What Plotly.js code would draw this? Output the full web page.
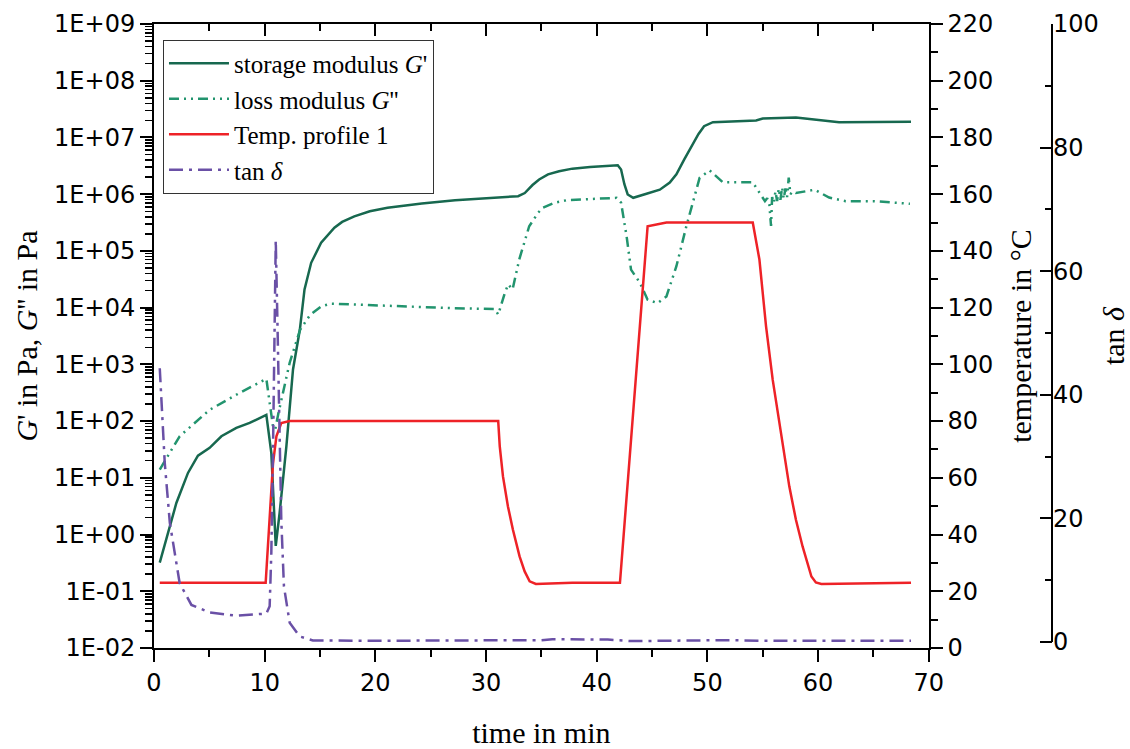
<!DOCTYPE html>
<html>
<head>
<meta charset="utf-8">
<script src="https://cdn.plot.ly/plotly-3.0.1.min.js"></script>
<style>html,body{margin:0;padding:0;background:#fff;}#chart{width:1130px;height:749px;}</style>
</head>
<body>
<div id="chart"></div>
<script>
// ---- data ----
// storage modulus G' (Pa) vs time (min)
const tStorage = [0.52,1.43,2.02,3.07,3.97,5.03,6.09,7.44,8.64,10.15,10.6,11.0,11.35,11.96,12.56,13.18,13.46,13.6,14.2,15.1,16.3,17.0,18.1,19.5,21.1,22.5,24.2,27.2,30.0,31.7,32.9,33.5,34.2,34.8,35.6,36.6,37.8,39.4,41.9,42.2,42.5,42.8,43.3,44.5,45.7,46.6,47.2,47.9,48.7,49.2,49.7,50.5,54.4,55.0,58.0,61.0,61.9,68.4];
const storageModulus = [0.32,1.4,3.6,12.2,24.5,33.7,54,76,93,129,27.5,0.63,2.4,36,813,4110,12200,20900,61700,139000,257000,324000,407000,501000,575000,631000,685000,783000,851000,902000,923000,1047000,1450000,1820000,2240000,2540000,2820000,3020000,3240000,2730000,1500000,989000,863000,1016000,1200000,1600000,2240000,4070000,7940000,11500000,15800000,18600000,19950000,21600000,22400000,19000000,18600000,19000000];

// loss modulus G'' (Pa) vs time (min)
const tLoss = [0.52,0.97,2.32,5.03,7.74,10.15,10.75,10.95,11.25,12.26,13.2,14.1,15.1,16.0,18.1,21.0,24.2,27.0,30.8,31.1,31.7,32.0,32.4,33.0,33.9,34.7,35.1,36.2,37.3,41.8,42.2,42.7,43.1,43.9,44.6,45.5,46.3,47.2,48.1,49.3,50.2,51.4,54.1,55.2,55.4,55.6,55.75,55.85,56.0,56.15,56.3,56.45,56.6,56.75,56.9,57.05,57.2,57.35,57.5,57.7,58.0,59.7,61.0,62.5,65.0,68.3];
const lossModulus = [14,19.5,54,158,314,555,81,71,140,1070,4070,7400,10500,11750,11350,10700,10300,9800,9440,7550,18200,25700,20900,70800,272000,468000,575000,708000,783000,863000,708000,182000,46800,27500,13800,12000,15800,53700,272000,1950000,2630000,1620000,1620000,754000,851000,661000,275000,891000,708000,1120000,759000,1260000,794000,1320000,832000,1260000,891000,1950000,1000000,1120000,1047000,1200000,871000,754000,754000,676000];

// temperature profile 1 (°C) vs time (min)
const tTemp = [0.52,10.09,10.75,11.06,11.5,12.26,31.1,31.24,31.53,31.98,32.43,33.03,33.49,33.94,34.5,37.8,42.1,44.6,46.3,54.1,54.7,55.3,55.9,56.8,57.4,58.0,58.6,59.4,59.8,60.3,68.4];
const temperature = [23,23,65,74.6,79.3,80,80,71.1,60.5,49.9,41.7,32.3,27.0,23.5,22.6,23,23,148.7,150,150,137,113.4,94.6,72.3,57.0,45.2,35.8,25.2,23.1,22.6,23];

// tan delta vs time (min)
const tTan = [0.52,0.97,1.43,2.32,3.38,5.0,7.44,10.15,10.45,10.6,10.75,10.9,11.0,11.15,11.3,11.5,11.74,12.26,13.16,14.36,20,30,33,35,36,41,43,48,52,55,68.4];
const tanDelta = [44.3,29.0,19.3,9.5,6.0,4.8,4.26,4.6,5.8,14.4,30.6,52.2,65,52,36,19.8,9.0,3.1,0.9,0.26,0.2,0.2,0.2,0.3,0.45,0.4,0.15,0.25,0.3,0.2,0.2];

// axis tick labels
const logTickVals = [1e-2,1e-1,1e0,1e1,1e2,1e3,1e4,1e5,1e6,1e7,1e8,1e9];
const logTickText = ['1E-02','1E-01','1E+00','1E+01','1E+02','1E+03','1E+04','1E+05','1E+06','1E+07','1E+08','1E+09'];

const seriesNames = ["storage modulus <i>G</i>'", "loss modulus <i>G</i>''", "Temp. profile 1", "tan <i>δ</i>"];

// ---- chart ----
const minorLog = [];
for (let e = -2; e < 9; e++) { for (let k = 2; k <= 9; k++) minorLog.push(k * Math.pow(10, e)); }

const tickFont = {family: 'DejaVu Sans', size: 24, color: '#000'};
const serif = 'Liberation Serif';

const traces = [
  {x: tStorage, y: storageModulus, name: seriesNames[0], type: 'scatter', mode: 'lines', xaxis: 'x', yaxis: 'y',
   line: {color: '#17684f', width: 2.5}},
  {x: tLoss, y: lossModulus, name: seriesNames[1], type: 'scatter', mode: 'lines', xaxis: 'x', yaxis: 'y',
   line: {color: '#22946e', width: 2.5, dash: '10px,5px,2px,5px,2px,5px'}},
  {x: tTemp, y: temperature, name: seriesNames[2], type: 'scatter', mode: 'lines', xaxis: 'x', yaxis: 'y2',
   line: {color: '#ee2227', width: 2.5}},
  {x: tTan, y: tanDelta, name: seriesNames[3], type: 'scatter', mode: 'lines', xaxis: 'x', yaxis: 'y3',
   line: {color: '#6a50a6', width: 2.5, dash: '14px,6px,3px,6px'}},
  {x: [], y: [], xaxis: 'x2', yaxis: 'y', type: 'scatter', mode: 'lines', showlegend: false, hoverinfo: 'skip'}
];

const dom = 775 / 898.3;

const layout = {
  width: 1130, height: 749,
  margin: {l: 154, r: 77.7, t: 24, b: 101, pad: 0},
  paper_bgcolor: '#fff', plot_bgcolor: '#fff',
  showlegend: true,
  legend: {x: 0.01, y: 0.975, xanchor: 'left', yanchor: 'top', bgcolor: '#fff', bordercolor: '#333', borderwidth: 1,
           font: {family: serif, size: 25, color: '#000'}, tracegroupgap: 0, itemwidth: 60},
  xaxis: {domain: [0, dom], range: [0, 70], anchor: 'y', tick0: 0, dtick: 10, ticks: 'outside', ticklen: 12, tickwidth: 2,
          tickcolor: '#000', showline: true, linecolor: '#000', linewidth: 2, showgrid: false, zeroline: false,
          minor: {dtick: 5, ticks: 'outside', ticklen: 7, tickwidth: 2, tickcolor: '#000', showgrid: false},
          tickfont: tickFont, title: {text: 'time in min', font: {family: serif, size: 30, color: '#000'}, standoff: 26}},
  xaxis2: {overlaying: 'x', side: 'top', anchor: 'y', range: [0, 70], tick0: 0, dtick: 10, ticks: 'inside', ticklen: 12,
           tickwidth: 2, tickcolor: '#000', showline: true, linecolor: '#000', linewidth: 2, showgrid: false, zeroline: false,
           showticklabels: false, minor: {dtick: 5, ticks: 'inside', ticklen: 7, tickwidth: 2, tickcolor: '#000', showgrid: false}},
  yaxis: {type: 'log', range: [-2, 9], tickmode: 'array', tickvals: logTickVals, ticktext: logTickText, ticks: 'outside',
          ticklen: 12, tickwidth: 2, tickcolor: '#000', showline: true, linecolor: '#000', linewidth: 2, showgrid: false,
          zeroline: false, tickfont: tickFont,
          minor: {tickmode: 'array', tickvals: minorLog, ticks: 'outside', ticklen: 7, tickwidth: 1.5, tickcolor: '#000', showgrid: false},
          title: {text: "<i>G</i>' in Pa, <i>G</i>'' in Pa", font: {family: serif, size: 30, color: '#000'}, standoff: 8}},
  yaxis2: {overlaying: 'y', side: 'right', anchor: 'x', range: [0, 220], tick0: 0, dtick: 20, ticks: 'outside', ticklen: 12,
           tickwidth: 2, tickcolor: '#000', showline: true, linecolor: '#000', linewidth: 2, showgrid: false, zeroline: false,
           tickfont: tickFont,
           minor: {dtick: 10, ticks: 'outside', ticklen: 7, tickwidth: 2, tickcolor: '#000', showgrid: false},
           title: {text: 'temperature in °C', font: {family: serif, size: 30, color: '#000'}, standoff: 18}},
  yaxis3: {overlaying: 'y', side: 'right', anchor: 'free', position: 1, range: [-0.97, 100], tick0: 0, dtick: 20,
           ticks: 'inside', ticklen: 12, tickwidth: 2, tickcolor: '#000', showline: false, showgrid: false, zeroline: false,
           tickfont: tickFont,
           minor: {dtick: 10, ticks: 'inside', ticklen: 7, tickwidth: 2, tickcolor: '#000', showgrid: false},
           title: {text: 'tan <i>δ</i>', font: {family: serif, size: 30, color: '#000'}, standoff: 16}},
  shapes: [{type: 'line', xref: 'paper', yref: 'y3', x0: 1, x1: 1, y0: 0, y1: 100, line: {color: '#000', width: 2}}]
};

Plotly.newPlot('chart', traces, layout, {displayModeBar: false, staticPlot: true});
</script>
</body>
</html>
